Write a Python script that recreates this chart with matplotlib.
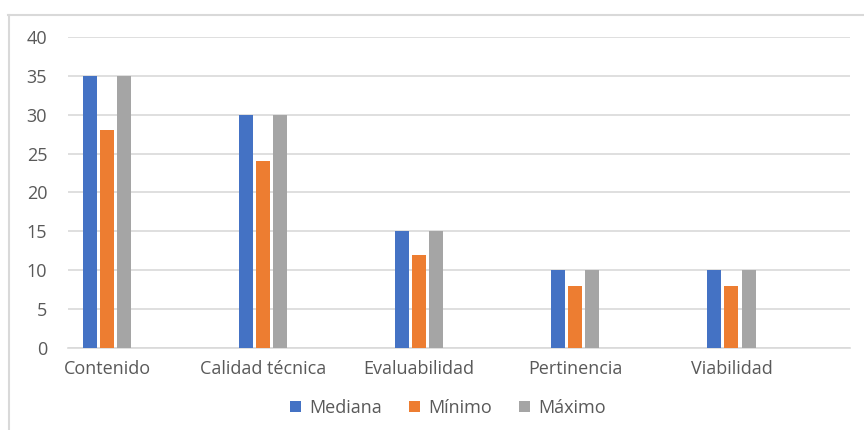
import numpy as np
import matplotlib.pyplot as plt
from matplotlib.lines import Line2D

# datos de la evaluación por criterio
criterios = ["Contenido", "Calidad técnica", "Evaluabilidad", "Pertinencia", "Viabilidad"]
mediana = [35, 30, 15, 10, 10]
minimo = [28, 24, 12, 8, 8]
maximo = [35, 30, 15, 10, 10]

series = ["Mediana", "Mínimo", "Máximo"]
colores = ["#4472C4", "#ED7D31", "#A5A5A5"]
gris_texto = "#595959"
gris_linea = "#D9D9D9"

plt.rcParams['font.family'] = ['Open Sans', 'DejaVu Sans']

fig = plt.figure(figsize=(8.64, 4.30), dpi=100)
ax = fig.add_axes([0.0787, 0.1907, 0.9051, 0.7233])

x = np.arange(len(criterios))
ancho = 0.09
paso = 0.11
for i, (valores, nombre, color) in enumerate(zip([mediana, minimo, maximo], series, colores)):
    ax.bar(x + (i - 1) * paso, valores, ancho, color=color, label=nombre, zorder=3)

ax.set_xlim(-0.25, 4.76)
ax.set_ylim(0, 40)
ax.set_yticks(range(0, 41, 5))
ax.set_xticks(x)
ax.set_xticklabels(criterios)
ax.tick_params(axis='both', length=0, labelsize=13, colors=gris_texto)
ax.tick_params(axis='x', pad=9)
ax.tick_params(axis='y', pad=15)
ax.grid(axis='y', color=gris_linea, linewidth=1.2, zorder=0)
for lado in ['top', 'right', 'left']:
    ax.spines[lado].set_visible(False)
ax.spines['bottom'].set_color(gris_linea)
ax.spines['bottom'].set_linewidth(1.2)

leg = fig.legend(loc='center', bbox_to_anchor=(448 / 864, 1 - 408 / 430), ncol=3,
                 frameon=False, fontsize=13, handlelength=0.6, handleheight=0.6,
                 handletextpad=0.45, columnspacing=1.5)
for t in leg.get_texts():
    t.set_color(gris_texto)

# marco del área del gráfico
fig.add_artist(Line2D([8 / 864, 1], [1 - 15 / 430, 1 - 15 / 430], color=gris_linea, linewidth=1.5))
fig.add_artist(Line2D([9 / 864, 9 / 864], [0, 1 - 15 / 430], color=gris_linea, linewidth=1.5))

fig.savefig("out.png", dpi=100, facecolor="white")
